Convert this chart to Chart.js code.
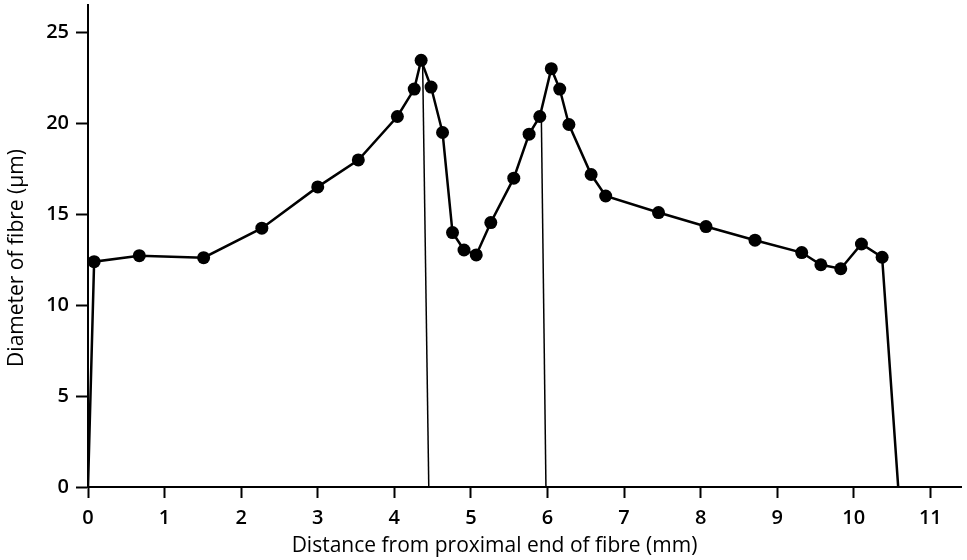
<!DOCTYPE html>
<html>
<head>
<meta charset="utf-8">
<script src="https://cdn.jsdelivr.net/npm/chart.js@4"></script>
<style>
html, body { margin: 0; padding: 0; background: #fff; }
#wrap { width: 967px; height: 560px; }
</style>
</head>
<body>
<div id="wrap"><canvas id="fibreChart"></canvas></div>
<script>
// distance along fibre (mm) and measured diameter (um)
const distance = [0, 0.08, 0.67, 1.51, 2.27, 3.0, 3.53, 4.04, 4.26, 4.35, 4.48, 4.63, 4.76, 4.91, 5.07,
    5.26, 5.56, 5.76, 5.9, 6.05, 6.16, 6.28, 6.57, 6.76, 7.45, 8.07, 8.71, 9.32, 9.57, 9.83, 10.1, 10.37, 10.58];
const diameter = [0, 12.39, 12.72, 12.61, 14.23, 16.5, 17.98, 20.37, 21.88, 23.46, 21.99, 19.49, 13.99, 13.03, 12.76,
    14.54, 16.98, 19.4, 20.37, 23.0, 21.88, 19.93, 17.18, 16.0, 15.09, 14.32, 13.57, 12.89, 12.22, 12.0, 13.36, 12.63, 0];

// the two thin marker lines
const cut1X = [4.45, 4.37];
const cut1Y = [0, 23.2];
const cut2X = [5.98, 5.92];
const cut2Y = [0, 20.3];

const xTicks = [0, 1, 2, 3, 4, 5, 6, 7, 8, 9, 10, 11];
const yTicks = [0, 5, 10, 15, 20, 25];

const xTitle = 'Distance from proximal end of fibre (mm)';
const yTitle = 'Diameter of fibre (μm)';

const FONT = "'Open Sans', sans-serif";

function toPoints(xs, ys) {
    return xs.map((x, i) => ({ x: x, y: ys[i] }));
}

// axis titles sit a little off-centre in the original, so draw them by hand
const axisTitles = {
    id: 'axisTitles',
    afterDraw(chart) {
        const c = chart.ctx;
        const area = chart.chartArea;
        c.save();
        c.fillStyle = '#000';
        c.font = '21px ' + FONT;
        c.textAlign = 'center';
        c.textBaseline = 'middle';
        c.fillText(xTitle, (area.left + area.right) / 2 - 30, chart.height - 14);
        c.translate(17, (area.top + area.bottom) / 2 + 12);
        c.rotate(-Math.PI / 2);
        c.fillText(yTitle, 0, 0);
        c.restore();
    }
};

let fibreChart;

document.addEventListener('DOMContentLoaded', function () {
    const ctx = document.getElementById('fibreChart');
    fibreChart = new Chart(ctx, {
        type: 'scatter',
        data: {
            datasets: [{
                label: 'diameter',
                data: toPoints(distance, diameter),
                showLine: true,
                borderColor: '#000',
                backgroundColor: '#000',
                borderWidth: 2.5,
                pointRadius: c => (c.raw && c.raw.y === 0) ? 0 : 6.5,
                pointBorderWidth: 0
            }, {
                label: 'cut1',
                data: toPoints(cut1X, cut1Y),
                showLine: true,
                borderColor: '#000',
                borderWidth: 1.5,
                pointRadius: 0
            }, {
                label: 'cut2',
                data: toPoints(cut2X, cut2Y),
                showLine: true,
                borderColor: '#000',
                borderWidth: 1.5,
                pointRadius: 0
            }]
        },
        options: {
            responsive: true,
            maintainAspectRatio: false,
            animation: false,
            layout: { padding: { top: 5, right: 6, left: 0, bottom: 0 } },
            plugins: {
                legend: { display: false },
                tooltip: { enabled: false }
            },
            scales: {
                x: {
                    type: 'linear',
                    min: 0,
                    max: 11.4,
                    afterBuildTicks: axis => { axis.ticks = xTicks.map(v => ({ value: v })); },
                    afterFit: scale => { scale.height = 73; scale.paddingLeft = 0; scale.paddingRight = 0; },
                    border: { color: '#000', width: 2 },
                    grid: { drawOnChartArea: false, tickLength: 11, tickWidth: 2, tickColor: '#000' },
                    ticks: { color: '#000', padding: 8, font: { family: FONT, size: 20, weight: 600 } }
                },
                y: {
                    min: 0,
                    max: 26.5,
                    afterBuildTicks: axis => { axis.ticks = yTicks.map(v => ({ value: v })); },
                    afterFit: scale => { scale.width = 88; scale.paddingTop = 0; scale.paddingBottom = 0; },
                    border: { color: '#000', width: 2 },
                    grid: { drawOnChartArea: false, tickLength: 12, tickWidth: 2, tickColor: '#000' },
                    ticks: { color: '#000', padding: 7, font: { family: FONT, size: 20, weight: 600 } }
                }
            }
        },
        plugins: [axisTitles]
    });
});
</script>
</body>
</html>
